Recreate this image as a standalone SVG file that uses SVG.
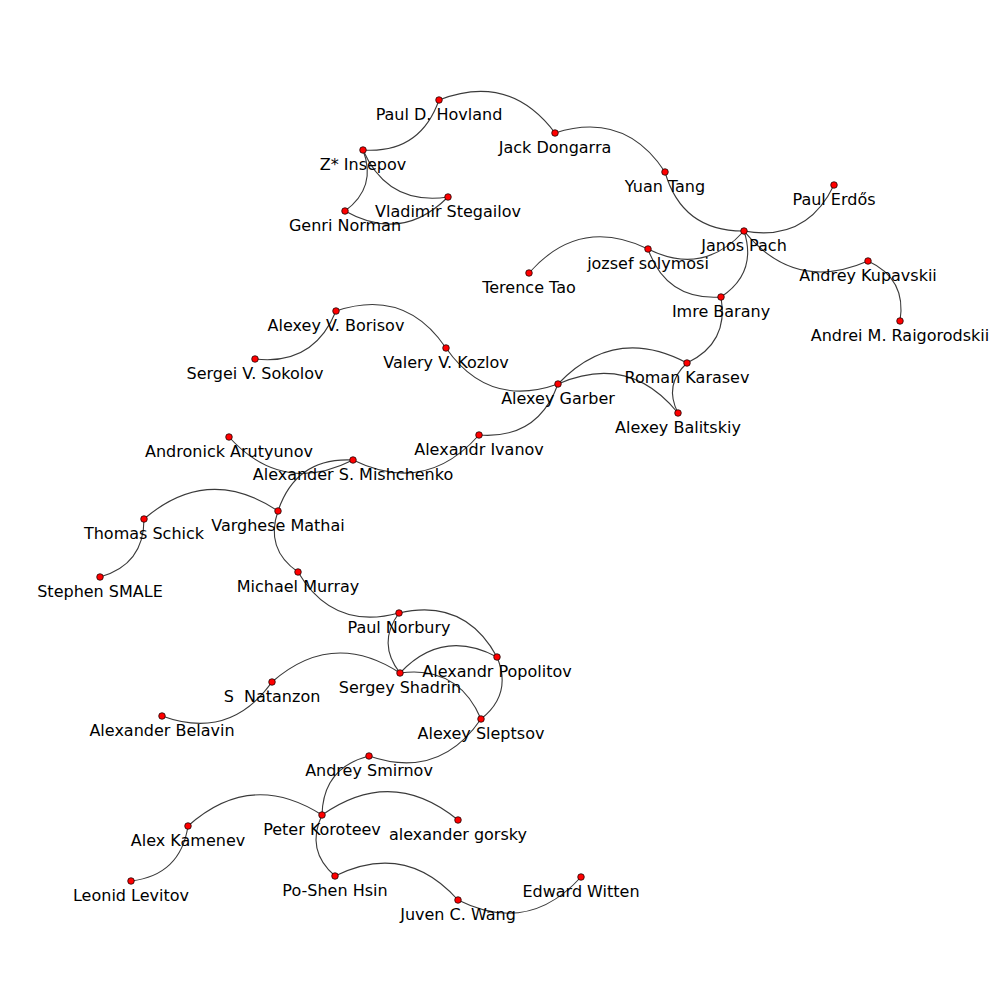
<svg xmlns="http://www.w3.org/2000/svg" width="1000" height="1000" viewBox="0 0 1000 1000">
  <style>
    .edge { fill: none; stroke: #3a3a3a; stroke-width: 1.1; }
    .node circle { fill: #ff0000; stroke: #000; stroke-width: 0.7; }
    .node text { font-family: "DejaVu Sans", sans-serif; font-size: 16px; fill: #000; text-anchor: middle; }
  </style>
  <rect width="1000" height="1000" fill="#fff"/>

  <!-- collaboration links: quadratic arcs -->
  <g id="edges">
    <path class="edge" d="M363,150 Q420,153.9 439,100"/>
    <path class="edge" d="M439,100 Q509.5,72.4 555,133"/>
    <path class="edge" d="M555,133 Q624.8,110.7 665,172"/>
    <path class="edge" d="M665,172 Q682.1,231.5 744,231"/>
    <path class="edge" d="M744,231 Q806.5,242.2 834,185"/>
    <path class="edge" d="M363,150 Q377.2,187.3 345,211"/>
    <path class="edge" d="M363,150 Q387.6,205.8 448,197"/>
    <path class="edge" d="M345,211 Q401.8,243.1 448,197"/>
    <path class="edge" d="M648,249 Q702.8,276.5 744,231"/>
    <path class="edge" d="M529,273 Q579.4,215.8 648,249"/>
    <path class="edge" d="M648,249 Q666.3,300.7 721,297"/>
    <path class="edge" d="M744,231 Q757.6,272.7 721,297"/>
    <path class="edge" d="M744,231 Q794.6,293.1 868,261"/>
    <path class="edge" d="M868,261 Q906.8,278.8 900,321"/>
    <path class="edge" d="M721,297 Q729.1,342.9 687,363"/>
    <path class="edge" d="M255,359 Q313.7,365.8 336,311"/>
    <path class="edge" d="M336,311 Q405.1,287.7 446,348"/>
    <path class="edge" d="M446,348 Q488.3,408.6 558,384"/>
    <path class="edge" d="M558,384 Q614.5,324.5 687,363"/>
    <path class="edge" d="M558,384 Q629,352.9 678,413"/>
    <path class="edge" d="M687,363 Q663.5,384.6 678,413"/>
    <path class="edge" d="M479,435 Q537.9,439.5 558,384"/>
    <path class="edge" d="M353,460 Q425.5,495.4 479,435"/>
    <path class="edge" d="M229,437 Q282.3,495.6 353,460"/>
    <path class="edge" d="M278,511 Q296.1,457 353,460"/>
    <path class="edge" d="M144,519 Q208,464.1 278,511"/>
    <path class="edge" d="M100,577 Q144,564.7 144,519"/>
    <path class="edge" d="M278,511 Q264.8,549.1 298,572"/>
    <path class="edge" d="M298,572 Q332.9,630.9 399,613"/>
    <path class="edge" d="M399,613 Q464.7,597.8 497,657"/>
    <path class="edge" d="M399,613 Q376.7,643.4 400,673"/>
    <path class="edge" d="M400,673 Q442.4,628.1 497,657"/>
    <path class="edge" d="M272,682 Q332.6,628.9 400,673"/>
    <path class="edge" d="M400,673 Q458,665.2 481,719"/>
    <path class="edge" d="M497,657 Q512.6,694.1 481,719"/>
    <path class="edge" d="M162,716 Q229.9,740.8 272,682"/>
    <path class="edge" d="M369,756 Q439.1,780.1 481,719"/>
    <path class="edge" d="M322,815 Q323.1,767.6 369,756"/>
    <path class="edge" d="M188,826 Q250.8,769.6 322,815"/>
    <path class="edge" d="M322,815 Q391.9,765.8 458,820"/>
    <path class="edge" d="M131,881 Q180.4,875.2 188,826"/>
    <path class="edge" d="M322,815 Q305.3,850.4 335,876"/>
    <path class="edge" d="M335,876 Q405.6,841.3 458,900"/>
    <path class="edge" d="M458,900 Q528.2,935.2 581,877"/>
  </g>

  <!-- people -->
  <g id="n-hovland" class="node"><circle cx="439" cy="100" r="3.3"/><text x="439" y="120">Paul D. Hovland</text></g>
  <g id="n-dongarra" class="node"><circle cx="555" cy="133" r="3.3"/><text x="555" y="153">Jack Dongarra</text></g>
  <g id="n-tang" class="node"><circle cx="665" cy="172" r="3.3"/><text x="665" y="192">Yuan Tang</text></g>
  <g id="n-pach" class="node"><circle cx="744" cy="231" r="3.3"/><text x="744" y="251">Janos Pach</text></g>
  <g id="n-erdos" class="node"><circle cx="834" cy="185" r="3.3"/><text x="834" y="205">Paul Erdős</text></g>
  <g id="n-insepov" class="node"><circle cx="363" cy="150" r="3.3"/><text x="363" y="170">Z* Insepov</text></g>
  <g id="n-stegailov" class="node"><circle cx="448" cy="197" r="3.3"/><text x="448" y="217">Vladimir Stegailov</text></g>
  <g id="n-norman" class="node"><circle cx="345" cy="211" r="3.3"/><text x="345" y="231">Genri Norman</text></g>
  <g id="n-solymosi" class="node"><circle cx="648" cy="249" r="3.3"/><text x="648" y="269">jozsef solymosi</text></g>
  <g id="n-tao" class="node"><circle cx="529" cy="273" r="3.3"/><text x="529" y="293">Terence Tao</text></g>
  <g id="n-barany" class="node"><circle cx="721" cy="297" r="3.3"/><text x="721" y="317">Imre Barany</text></g>
  <g id="n-kupavskii" class="node"><circle cx="868" cy="261" r="3.3"/><text x="868" y="281">Andrey Kupavskii</text></g>
  <g id="n-raigorodskii" class="node"><circle cx="900" cy="321" r="3.3"/><text x="900" y="341">Andrei M. Raigorodskii</text></g>
  <g id="n-borisov" class="node"><circle cx="336" cy="311" r="3.3"/><text x="336" y="331">Alexey V. Borisov</text></g>
  <g id="n-sokolov" class="node"><circle cx="255" cy="359" r="3.3"/><text x="255" y="379">Sergei V. Sokolov</text></g>
  <g id="n-kozlov" class="node"><circle cx="446" cy="348" r="3.3"/><text x="446" y="368">Valery V. Kozlov</text></g>
  <g id="n-karasev" class="node"><circle cx="687" cy="363" r="3.3"/><text x="687" y="383">Roman Karasev</text></g>
  <g id="n-garber" class="node"><circle cx="558" cy="384" r="3.3"/><text x="558" y="404">Alexey Garber</text></g>
  <g id="n-balitskiy" class="node"><circle cx="678" cy="413" r="3.3"/><text x="678" y="433">Alexey Balitskiy</text></g>
  <g id="n-ivanov" class="node"><circle cx="479" cy="435" r="3.3"/><text x="479" y="455">Alexandr Ivanov</text></g>
  <g id="n-arutyunov" class="node"><circle cx="229" cy="437" r="3.3"/><text x="229" y="457">Andronick Arutyunov</text></g>
  <g id="n-mishchenko" class="node"><circle cx="353" cy="460" r="3.3"/><text x="353" y="480">Alexander S. Mishchenko</text></g>
  <g id="n-schick" class="node"><circle cx="144" cy="519" r="3.3"/><text x="144" y="539">Thomas Schick</text></g>
  <g id="n-mathai" class="node"><circle cx="278" cy="511" r="3.3"/><text x="278" y="531">Varghese Mathai</text></g>
  <g id="n-smale" class="node"><circle cx="100" cy="577" r="3.3"/><text x="100" y="597">Stephen SMALE</text></g>
  <g id="n-murray" class="node"><circle cx="298" cy="572" r="3.3"/><text x="298" y="592">Michael Murray</text></g>
  <g id="n-norbury" class="node"><circle cx="399" cy="613" r="3.3"/><text x="399" y="633">Paul Norbury</text></g>
  <g id="n-popolitov" class="node"><circle cx="497" cy="657" r="3.3"/><text x="497" y="677">Alexandr Popolitov</text></g>
  <g id="n-shadrin" class="node"><circle cx="400" cy="673" r="3.3"/><text x="400" y="693">Sergey Shadrin</text></g>
  <g id="n-natanzon" class="node"><circle cx="272" cy="682" r="3.3"/><text x="272" y="702" xml:space="preserve">S  Natanzon</text></g>
  <g id="n-belavin" class="node"><circle cx="162" cy="716" r="3.3"/><text x="162" y="736">Alexander Belavin</text></g>
  <g id="n-sleptsov" class="node"><circle cx="481" cy="719" r="3.3"/><text x="481" y="739">Alexey Sleptsov</text></g>
  <g id="n-smirnov" class="node"><circle cx="369" cy="756" r="3.3"/><text x="369" y="776">Andrey Smirnov</text></g>
  <g id="n-koroteev" class="node"><circle cx="322" cy="815" r="3.3"/><text x="322" y="835">Peter Koroteev</text></g>
  <g id="n-kamenev" class="node"><circle cx="188" cy="826" r="3.3"/><text x="188" y="846">Alex Kamenev</text></g>
  <g id="n-gorsky" class="node"><circle cx="458" cy="820" r="3.3"/><text x="458" y="840">alexander gorsky</text></g>
  <g id="n-levitov" class="node"><circle cx="131" cy="881" r="3.3"/><text x="131" y="901">Leonid Levitov</text></g>
  <g id="n-hsin" class="node"><circle cx="335" cy="876" r="3.3"/><text x="335" y="896">Po-Shen Hsin</text></g>
  <g id="n-wang" class="node"><circle cx="458" cy="900" r="3.3"/><text x="458" y="920">Juven C. Wang</text></g>
  <g id="n-witten" class="node"><circle cx="581" cy="877" r="3.3"/><text x="581" y="897">Edward Witten</text></g>
</svg>
